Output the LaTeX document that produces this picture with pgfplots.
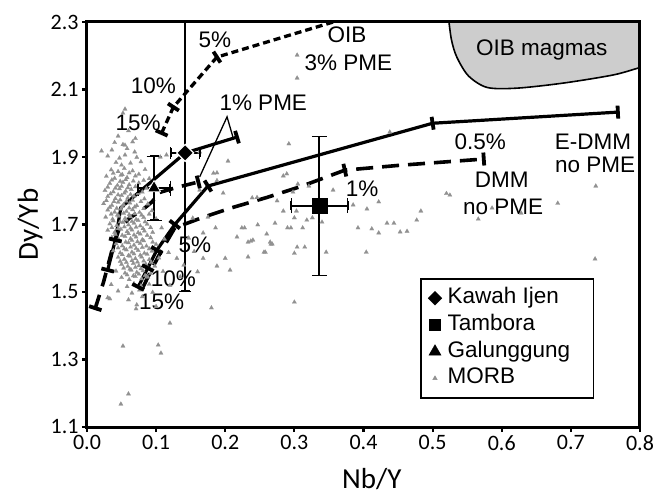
\documentclass[border=0pt]{standalone}
\usepackage{fontspec}
\setmainfont{Liberation Sans}
\newfontfamily\carlito{Carlito}
\usepackage{pgfplots}
\usepackage{pgfplotstable}
\pgfplotsset{compat=1.18}
\definecolor{morbgray}{RGB}{145,145,145}
\definecolor{oibgray}{RGB}{205,205,205}
\pgfplotsset{
  tk/.style={forget plot, only marks, mark=|, mark size=6.5pt, black, mark options={line width=3.8pt, rotate=#1}},
  capv/.style={forget plot, only marks, mark=|, mark size=4.5pt, black, mark options={line width=1.8pt}},
  caph/.style={forget plot, only marks, mark=-, mark size=4.5pt, black, mark options={line width=1.8pt}},
}
\tikzset{lbl/.style={font=\fontsize{22.5}{24}\selectfont, inner sep=0pt}}
\pgfplotstableread{
x y
0.052 1.340
0.060 1.198
0.049 1.168
0.103 1.343
0.107 1.319
0.120 1.408
0.180 1.453
0.300 1.470
0.071 1.450
0.033 1.480
0.233 1.604
0.258 1.618
0.300 1.615
0.207 1.565
0.188 1.577
0.200 1.600
0.233 1.648
0.240 1.654
0.265 1.648
0.268 1.642
0.304 1.633
0.315 1.633
0.346 1.618
0.404 1.618
0.735 1.598
0.292 1.939
0.289 1.850
0.305 1.820
0.321 1.814
0.356 1.802
0.239 1.779
0.275 1.770
0.298 1.796
0.284 1.740
0.303 1.740
0.318 1.713
0.326 1.720
0.340 1.707
0.385 1.758
0.405 1.746
0.422 1.767
0.483 1.740
0.477 1.713
0.463 1.680
0.453 1.678
0.434 1.704
0.444 1.704
0.422 1.675
0.412 1.687
0.392 1.690
0.224 1.690
0.247 1.699
0.272 1.704
0.295 1.690
0.312 1.690
0.217 1.663
0.237 1.651
0.266 1.642
0.256 1.618
0.438 1.974
0.525 1.787
0.520 1.792
0.566 1.716
0.586 1.749
0.628 1.734
0.681 1.763
0.736 1.814
0.304 2.202
0.304 2.134
0.055 2.042
0.052 2.030
0.055 1.935
0.021 1.918
0.188 1.853
0.204 1.888
0.197 1.793
0.163 1.802
0.175 1.722
0.153 1.719
0.108 1.690
0.163 1.915
0.183 1.852
0.188 1.830
0.284 1.844
0.246 1.780
0.300 1.720
0.290 1.690
0.260 1.672
0.228 1.690
0.186 1.690
0.168 1.675
0.147 1.660
0.130 1.600
0.140 1.580
0.155 1.620
0.168 1.600
0.160 1.560
0.120 1.520
0.135 1.545
0.106 1.900
0.115 1.906
0.060 1.978
0.045 1.962
0.070 1.955
0.040 1.943
0.052 1.937
0.066 1.945
0.036 1.921
0.058 1.925
0.069 1.915
0.030 1.903
0.047 1.897
0.055 1.906
0.072 1.899
0.042 1.884
0.050 1.876
0.063 1.882
0.078 1.886
0.035 1.862
0.045 1.857
0.054 1.866
0.066 1.859
0.084 1.863
0.028 1.843
0.040 1.837
0.049 1.846
0.058 1.839
0.070 1.844
0.090 1.836
0.033 1.822
0.044 1.816
0.052 1.825
0.061 1.818
0.075 1.823
0.026 1.801
0.038 1.797
0.047 1.806
0.056 1.799
0.064 1.804
0.080 1.796
0.030 1.783
0.041 1.777
0.050 1.786
0.059 1.779
0.068 1.784
0.083 1.776
0.024 1.762
0.036 1.757
0.045 1.766
0.053 1.759
0.062 1.764
0.072 1.756
0.088 1.761
0.030 1.743
0.040 1.737
0.049 1.746
0.057 1.739
0.066 1.744
0.076 1.736
0.094 1.741
0.027 1.722
0.037 1.716
0.046 1.725
0.055 1.718
0.063 1.723
0.071 1.715
0.082 1.721
0.100 1.717
0.033 1.702
0.043 1.697
0.052 1.706
0.060 1.699
0.068 1.704
0.077 1.696
0.087 1.701
0.030 1.683
0.040 1.677
0.049 1.686
0.058 1.679
0.065 1.684
0.074 1.676
0.083 1.681
0.095 1.677
0.036 1.662
0.046 1.656
0.055 1.665
0.063 1.658
0.071 1.663
0.080 1.655
0.092 1.661
0.112 1.657
0.042 1.643
0.051 1.637
0.060 1.646
0.068 1.639
0.077 1.644
0.086 1.636
0.100 1.641
0.038 1.622
0.048 1.616
0.057 1.625
0.065 1.618
0.074 1.623
0.083 1.615
0.094 1.621
0.118 1.617
0.045 1.603
0.054 1.597
0.062 1.606
0.070 1.599
0.079 1.604
0.090 1.596
0.104 1.601
0.050 1.582
0.059 1.576
0.067 1.585
0.075 1.578
0.085 1.583
0.098 1.577
0.042 1.562
0.055 1.556
0.064 1.565
0.072 1.558
0.081 1.563
0.092 1.555
0.110 1.561
0.050 1.543
0.061 1.537
0.070 1.546
0.079 1.539
0.088 1.544
0.035 1.522
0.058 1.516
0.068 1.525
0.078 1.518
0.090 1.523
0.045 1.503
0.065 1.497
0.076 1.506
0.095 1.499
0.030 1.483
0.060 1.477
0.080 1.486
0.072 1.462
0.100 1.457
0.038 1.852
0.051 1.848
0.061 1.853
0.075 1.849
0.036 1.832
0.048 1.828
0.056 1.833
0.067 1.829
0.082 1.831
0.030 1.811
0.041 1.808
0.050 1.813
0.059 1.809
0.070 1.812
0.086 1.807
0.034 1.791
0.045 1.788
0.054 1.793
0.063 1.789
0.074 1.792
0.028 1.771
0.039 1.768
0.048 1.773
0.057 1.769
0.066 1.772
0.078 1.768
0.033 1.751
0.043 1.748
0.051 1.753
0.061 1.749
0.069 1.752
0.082 1.747
0.035 1.731
0.044 1.728
0.053 1.733
0.061 1.729
0.069 1.732
0.079 1.728
0.090 1.731
0.038 1.711
0.048 1.708
0.057 1.713
0.065 1.709
0.074 1.712
0.084 1.708
0.036 1.691
0.045 1.688
0.054 1.693
0.063 1.689
0.071 1.692
0.081 1.688
0.092 1.691
0.041 1.671
0.051 1.668
0.060 1.673
0.068 1.669
0.077 1.672
0.087 1.668
0.047 1.651
0.056 1.648
0.065 1.653
0.073 1.649
0.082 1.652
0.095 1.648
0.045 1.631
0.054 1.628
0.063 1.633
0.071 1.629
0.080 1.632
0.090 1.628
0.051 1.611
0.060 1.608
0.068 1.613
0.077 1.609
0.087 1.612
0.048 1.591
0.057 1.588
0.065 1.593
0.073 1.589
0.082 1.592
0.093 1.588
0.053 1.571
0.062 1.568
0.070 1.573
0.078 1.569
0.088 1.572
0.058 1.551
0.067 1.548
0.075 1.553
0.084 1.549
}\morb
\begin{document}
\begin{tikzpicture}
\path[use as bounding box] (-87pt,-69pt) rectangle (568pt,427pt);
\begin{axis}[
  at={(0,0)}, anchor=south west,
  scale only axis, width=553pt, height=405pt,
  xmin=0, xmax=0.8, ymin=1.1, ymax=2.3,
  xtick={0,0.1,0.2,0.3,0.4,0.5,0.6,0.7,0.8},
  ytick={1.1,1.3,1.5,1.7,1.9,2.1,2.3},
  xticklabel style={/pgf/number format/fixed, /pgf/number format/fixed zerofill, /pgf/number format/precision=1},
  yticklabel style={/pgf/number format/fixed, /pgf/number format/fixed zerofill, /pgf/number format/precision=1},
  /pgf/number format/assume math mode=true,
  ticklabel style={font=\carlito\fontsize{22}{22}\selectfont},
  tick align=outside, xtick pos=bottom, ytick pos=left,
  major tick length=5pt,
  every tick/.style={black, line width=2.2pt},
  axis line style={line width=3pt},
  axis on top,
  xlabel={Nb/Y}, ylabel={Dy/Yb},
  xlabel style={font=\carlito\fontsize{29}{29}\selectfont, at={(axis description cs:0.515,-0.128)}, anchor=center},
  ylabel style={font=\carlito\fontsize{29}{29}\selectfont, at={(axis description cs:-0.103,0.5)}, anchor=center},
  legend cell align=left,
  legend style={at={(axis description cs:0.602,0.368)}, anchor=north west, draw=black, line width=1.6pt, fill=white,
    font=\fontsize{22.5}{24}\selectfont, inner xsep=7.5pt, inner ysep=7pt, row sep=1.7pt,
    nodes={inner xsep=5.75pt, inner ysep=2pt, text height=16pt, text depth=5pt}},
]
\addlegendimage{only marks, mark=square*, mark size=4.8pt, mark options={rotate=45, fill=black, draw=black, line width=0.4pt}}
\addlegendentry{Kawah Ijen}
\addlegendimage{only marks, mark=square*, mark size=5.5pt, mark options={fill=black, draw=black, line width=0.4pt}}
\addlegendentry{Tambora}
\addlegendimage{only marks, mark=triangle*, mark size=7pt, mark options={fill=black, draw=black, line width=0.4pt}}
\addlegendentry{Galunggung\hspace*{10pt}}
\addlegendimage{only marks, mark=triangle*, mark size=2.6pt, mark options={fill=morbgray, draw=morbgray, line width=0.4pt}}
\addlegendentry{MORB}

% OIB magmas field
\addplot[forget plot, draw=black, line width=1.6pt, fill=oibgray, smooth] coordinates {
 (0.522,2.33) (0.527,2.25) (0.535,2.196) (0.552,2.140) (0.579,2.106) (0.622,2.104)
 (0.689,2.119) (0.761,2.143) (0.800,2.165) (0.83,2.18) (0.83,2.33) (0.522,2.33)};

% MORB
\addplot[forget plot, only marks, mark=triangle*, mark size=2.5pt, color=morbgray, mark options={draw=morbgray, fill=morbgray, line width=0.2pt}] table {\morb};

% OIB 3% PME curve
\addplot[forget plot, black, line width=3.3pt, dash pattern=on 7pt off 4pt] coordinates {
 (0.108,1.971) (0.125,2.048) (0.188,2.196) (0.40,2.327)};
\addplot[tk=66] coordinates {(0.108,1.971)};
\addplot[tk=57] coordinates {(0.125,2.048)};
\addplot[tk=33] coordinates {(0.188,2.196)};

% E-DMM 1% PME (solid)
\addplot[forget plot, black, line width=3.2pt] coordinates {
 (0.030,1.565) (0.041,1.654) (0.049,1.750) (0.142,1.912) (0.217,1.959)};
\addplot[tk=76] coordinates {(0.030,1.565)};
\addplot[tk=77] coordinates {(0.041,1.654)};
\addplot[tk=17] coordinates {(0.217,1.959)};

% DMM 1% PME (dashed)
\addplot[forget plot, black, line width=3.6pt, dash pattern=on 14pt off 9pt] coordinates {
 (0.012,1.452) (0.024,1.530) (0.037,1.630) (0.047,1.690) (0.062,1.720) (0.080,1.743)
 (0.094,1.767) (0.105,1.795) (0.130,1.810) (0.161,1.826)};
\addplot[tk=72] coordinates {(0.012,1.452)};
\addplot[tk=14] coordinates {(0.161,1.826)};

% E-DMM no PME (solid)
\addplot[forget plot, black, line width=3.2pt] coordinates {
 (0.074,1.515) (0.088,1.571) (0.101,1.624) (0.127,1.700) (0.175,1.814) (0.500,2.000) (0.768,2.033)};
\addplot[tk=63] coordinates {(0.074,1.515)};
\addplot[tk=63] coordinates {(0.088,1.571)};
\addplot[tk=59] coordinates {(0.101,1.624)};
\addplot[tk=52] coordinates {(0.127,1.700)};
\addplot[tk=32] coordinates {(0.175,1.814)};
\addplot[tk=9] coordinates {(0.500,2.000)};
\addplot[tk=3] coordinates {(0.768,2.033)};

% DMM no PME (dashed)
\addplot[forget plot, black, line width=3.6pt, dash pattern=on 17pt off 9pt] coordinates {
 (0.080,1.510) (0.093,1.565) (0.107,1.620) (0.127,1.690) (0.166,1.720) (0.210,1.750)
 (0.260,1.780) (0.310,1.813) (0.373,1.861) (0.450,1.875) (0.574,1.894)};
\addplot[tk=13] coordinates {(0.373,1.861)};
\addplot[tk=4] coordinates {(0.574,1.894)};

% 1% PME pointer
\addplot[forget plot, black, line width=1.3pt] coordinates {(0.211,1.960) (0.2026,2.019) (0.163,1.841)};

% Kawah Ijen
\addplot[forget plot, only marks, black, mark=square*, mark size=6pt,
  mark options={rotate=45, fill=black, draw=white, line width=1.2pt},
  error bars/.cd, x dir=both, x explicit, y dir=both, y explicit,
  error bar style={line width=1.6pt, black, solid}]
  coordinates {(0.142,1.912) +- (0.021,0.41)};
\addplot[caph] coordinates {(0.142,1.502)};
\addplot[capv] coordinates {(0.121,1.912) (0.163,1.912)};
% Tambora
\addplot[forget plot, only marks, black, mark=square*, mark size=7.5pt,
  mark options={fill=black, draw=black},
  error bars/.cd, x dir=both, x explicit, y dir=both, y explicit,
  error bar style={line width=1.6pt, black, solid}]
  coordinates {(0.336,1.755) +- (0.041,0.206)};
\addplot[caph] coordinates {(0.336,1.549) (0.336,1.961)};
\addplot[capv] coordinates {(0.295,1.755) (0.377,1.755)};
% Galunggung
\addplot[forget plot, only marks, black, mark=triangle*, mark size=7.5pt,
  mark options={fill=black, draw=white, line width=0.8pt},
  error bars/.cd, x dir=both, x explicit, y dir=both, y explicit,
  error bar style={line width=1.6pt, black, solid}]
  coordinates {(0.097,1.808) +- (0.023,0.094)};
\addplot[caph] coordinates {(0.097,1.714) (0.097,1.902)};
\addplot[capv] coordinates {(0.074,1.808) (0.120,1.808)};

% labels
\node[lbl] at (axis cs:0.376,2.261) {OIB};
\node[lbl] at (axis cs:0.378,2.180) {3\% PME};
\node[lbl] at (axis cs:0.658,2.217) {OIB magmas};
\node[lbl] at (axis cs:0.255,2.060) {1\% PME};
\node[lbl] at (axis cs:0.185,2.247) {5\%};
\node[lbl] at (axis cs:0.096,2.110) {10\%};
\node[lbl] at (axis cs:0.074,2.000) {15\%};
\node[lbl] at (axis cs:0.156,1.640) {5\%};
\node[lbl] at (axis cs:0.125,1.539) {10\%};
\node[lbl] at (axis cs:0.108,1.470) {15\%};
\node[lbl] at (axis cs:0.398,1.805) {1\%};
\node[lbl] at (axis cs:0.569,1.944) {0.5\%};
\node[lbl] at (axis cs:0.732,1.944) {E-DMM};
\node[lbl] at (axis cs:0.735,1.876) {no PME};
\node[lbl] at (axis cs:0.600,1.832) {DMM};
\node[lbl] at (axis cs:0.602,1.752) {no PME};
\end{axis}
\end{tikzpicture}
\end{document}
